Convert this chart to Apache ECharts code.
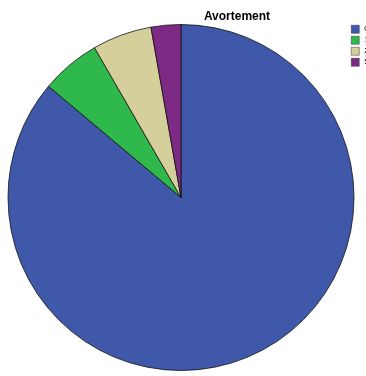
<!DOCTYPE html>
<html><head><meta charset="utf-8">
<script src="https://cdn.jsdelivr.net/npm/echarts@6/dist/echarts.min.js"></script>
<style>html,body{margin:0;padding:0;background:#fff;}#c{width:366px;height:376px;}</style>
</head><body><div id="c"></div>
<script>
const categories = ['0', '1', '2', '5'];
const counts = [31, 2, 2, 1];
const colors = ['#3f58aa', '#2fb84c', '#d4cf9b', '#7c2a84'];
const titleText = 'Avortement';

const chart = echarts.init(document.getElementById('c'), null, {renderer: 'canvas'});
chart.setOption({
  animation: false,
  title: {text: titleText, left: 232, top: 6, textAlign: 'center',
    textStyle: {fontFamily: 'Liberation Sans', fontWeight: 'bold', fontSize: 12, color: '#000'}},
  legend: {orient: 'vertical', left: 351, top: 25, padding: 0, itemWidth: 8, itemHeight: 8, itemGap: 2.5,
    icon: 'rect', itemStyle: {borderColor: '#333', borderWidth: 0.5},
    textStyle: {fontFamily: 'Liberation Sans', fontSize: 8, color: '#000'},
    data: categories},
  series: [{
    type: 'pie', center: [181, 197.5], radius: [0, 173], startAngle: 90, clockwise: true,
    label: {show: false}, labelLine: {show: false},
    itemStyle: {borderColor: '#111', borderWidth: 0.8},
    data: categories.map((c, i) => ({name: c, value: counts[i], itemStyle: {color: colors[i]}}))
  }]
});
</script></body></html>
